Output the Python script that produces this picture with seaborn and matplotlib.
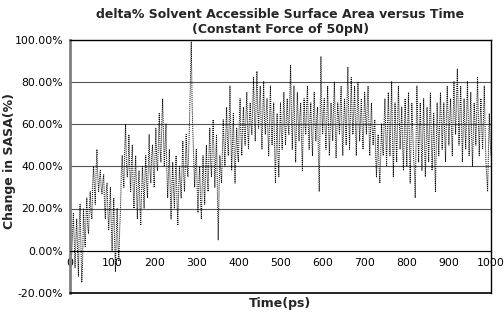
import numpy as np
import pandas as pd
import matplotlib
matplotlib.use("Agg")
import matplotlib.pyplot as plt
import seaborn as sns
from matplotlib.ticker import PercentFormatter

# SASA change (%), every 2 ps from 0 to 1000
time_ps = list(range(0, 1001, 2))
sasa_pct = [
    10, 4, -2, 8, 18, 5, -8, 6, 15, 0, -12, 12, 22, 2, -15, -5, 20, 10, 2, 16,
    25, 12, 8, 20, 28, 18, 15, 32, 40, 30, 22, 38, 48, 35, 28, 34, 38, 30, 27, 33,
    36, 22, 15, 28, 32, 18, 10, 20, 30, 12, 0, 14, 25, 5, -10, 8, 20, 2, -5, 10,
    20, 38, 45, 35, 30, 48, 60, 42, 35, 40, 55, 38, 28, 42, 50, 30, 20, 35, 45, 28,
    15, 30, 38, 22, 12, 28, 40, 30, 20, 35, 45, 32, 25, 40, 55, 38, 32, 45, 50, 38,
    30, 45, 58, 42, 38, 52, 65, 48, 42, 60, 72, 55, 40, 50, 60, 38, 25, 36, 48, 30,
    15, 30, 42, 28, 20, 35, 45, 25, 12, 28, 40, 32, 25, 38, 52, 36, 28, 42, 55, 40,
    35, 48, 62, 80, 99, 70, 55, 42, 30, 40, 48, 30, 18, 32, 40, 25, 15, 30, 45, 32,
    22, 38, 50, 35, 28, 45, 58, 42, 35, 50, 62, 45, 30, 42, 55, 30, 5, 28, 45, 38,
    32, 48, 62, 50, 40, 55, 68, 52, 45, 60, 78, 55, 38, 52, 65, 45, 32, 48, 58, 46,
    42, 60, 72, 55, 45, 58, 68, 56, 50, 64, 75, 58, 48, 62, 70, 60, 55, 68, 82, 64,
    52, 70, 85, 66, 58, 70, 78, 60, 48, 66, 80, 62, 55, 65, 72, 56, 45, 62, 78, 60,
    50, 64, 70, 48, 32, 50, 65, 45, 35, 55, 70, 56, 48, 62, 75, 60, 50, 64, 72, 60,
    55, 72, 88, 64, 48, 66, 78, 58, 42, 60, 75, 62, 52, 64, 70, 52, 38, 58, 72, 60,
    55, 68, 78, 60, 48, 62, 70, 55, 45, 62, 75, 60, 52, 63, 68, 45, 28, 60, 92, 68,
    55, 66, 72, 58, 48, 64, 78, 60, 45, 58, 70, 62, 52, 68, 80, 60, 44, 58, 70, 62,
    55, 68, 78, 58, 45, 60, 72, 62, 50, 70, 87, 64, 48, 66, 82, 65, 55, 66, 78, 60,
    45, 64, 80, 65, 52, 62, 72, 58, 48, 62, 75, 64, 55, 68, 78, 60, 45, 58, 70, 58,
    50, 58, 62, 45, 35, 48, 55, 40, 32, 45, 60, 50, 45, 60, 72, 55, 40, 58, 75, 60,
    45, 62, 80, 55, 35, 52, 70, 55, 42, 60, 78, 62, 48, 58, 68, 50, 38, 55, 72, 56,
    40, 58, 75, 52, 32, 50, 70, 58, 45, 38, 25, 50, 78, 60, 42, 56, 70, 52, 38, 55,
    72, 52, 35, 50, 68, 55, 42, 60, 75, 56, 38, 50, 65, 45, 28, 48, 70, 58, 45, 60,
    75, 62, 48, 60, 70, 55, 42, 62, 78, 64, 50, 62, 72, 58, 45, 62, 80, 66, 55, 70,
    86, 68, 50, 64, 78, 60, 42, 58, 72, 60, 48, 64, 80, 62, 45, 60, 75, 55, 40, 56,
    70, 60, 50, 66, 82, 62, 45, 60, 72, 58, 48, 62, 78, 58, 42, 35, 28, 48, 65, 52,
    45,
]
y_ticks = [-0.2, 0.0, 0.2, 0.4, 0.6, 0.8, 1.0]
x_ticks = list(range(0, 1001, 100))

df = pd.DataFrame({"time": time_ps, "sasa": np.array(sasa_pct) / 100.0})

sns.set_style("white")
plt.rcParams["axes.unicode_minus"] = False
plt.rcParams["font.family"] = ["DejaVu Sans"]

fig = plt.figure(figsize=(5.04, 3.13), dpi=100)
ax = fig.add_axes([70 / 504, 20 / 313, 421 / 504, 253.5 / 313])

for yv in y_ticks[1:-1]:
    ax.axhline(yv, color="#555555", lw=0.8, zorder=0)

sns.lineplot(data=df, x="time", y="sasa", ax=ax, color="black",
             linestyle=(0, (1, 1)), linewidth=0.7, zorder=2)

ax.set_xlim(0, 1000)
ax.set_ylim(-0.2, 1.0)
ax.set_yticks(y_ticks)
ax.set_xticks(x_ticks)
ax.yaxis.set_major_formatter(PercentFormatter(1.0, decimals=2))
ax.tick_params(axis="both", labelsize=7.8, direction="out", length=3,
               width=0.8, pad=2, colors="black")

ax.spines["bottom"].set_position(("data", 0))
ax.spines["bottom"].set_color("black")
ax.spines["bottom"].set_linewidth(0.8)
ax.spines["left"].set_color("#808080")
ax.spines["left"].set_linewidth(2)
ax.spines["top"].set_color("black")
ax.spines["top"].set_linewidth(1)
ax.spines["right"].set_color("black")
ax.spines["right"].set_linewidth(1)
ax.axhline(-0.2, color="black", lw=1.2, clip_on=False, zorder=3)

ax.set_xlabel("")
ax.set_ylabel("Change in SASA(%)", fontsize=9, fontweight="bold")
ax.yaxis.set_label_coords(-0.128, 0.52)
fig.text(280 / 504, 1 - 303 / 313, "Time(ps)", ha="center", va="center",
         fontsize=9, fontweight="bold")
ax.set_title("delta% Solvent Accessible Surface Area versus Time\n(Constant Force of 50pN)",
             fontsize=9, fontweight="bold", pad=5, linespacing=1.2)

fig.savefig("out.png", dpi=100)
